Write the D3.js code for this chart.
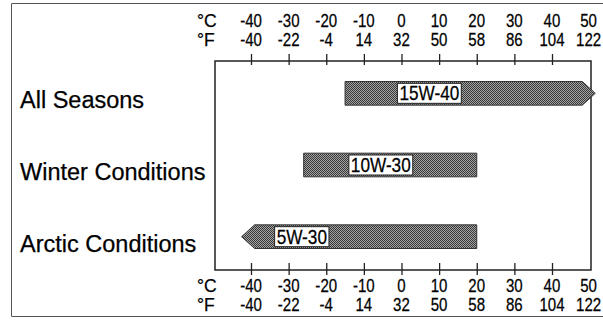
<!DOCTYPE html>
<html><head><meta charset="utf-8">
<script src="https://cdn.jsdelivr.net/npm/d3@7/dist/d3.min.js"></script>
<style>body{margin:0;background:#fff}svg{display:block}text{font-family:"Liberation Sans",Arial,sans-serif;fill:#000;stroke:#000;stroke-width:0.25px}</style>
</head><body><svg id="c" width="603" height="320"></svg>
<script>
const categories = ["All Seasons", "Winter Conditions", "Arctic Conditions"];
const grades = ["15W-40", "10W-30", "5W-30"];
const lowC = [-15, -26, -42.5];
const highC = [51.5, 20, 20];
const openLow = [false, false, true];
const openHigh = [true, false, false];
const gradeLabelC = [7.4, -5.5, -26.5];
const celsiusTicks = [-40, -30, -20, -10, 0, 10, 20, 30, 40, 50];
const fahrenheitLabels = ["-40", "-22", "-4", "14", "32", "50", "58", "86", "104", "122"];

const svg = d3.select("#c");
const W = 603, H = 320;
const box = {l: 215, r: 591, t: 61, b: 270};
const x = d3.scaleLinear().domain([-40, 40]).range([251, 552]);
const y = d3.scaleBand().domain(categories).range([60, 270]).paddingInner(0.67).paddingOuter(0.3);

const defs = svg.append("defs");
const pat = defs.append("pattern").attr("id", "ht").attr("width", 2).attr("height", 2).attr("patternUnits", "userSpaceOnUse");
pat.append("rect").attr("width", 2).attr("height", 2).attr("fill", "#a4a4a4");
pat.append("rect").attr("width", 1).attr("height", 1).attr("fill", "#383838");
pat.append("rect").attr("x", 1).attr("y", 1).attr("width", 1).attr("height", 1).attr("fill", "#383838");

svg.append("path").attr("d", `M${W+2},3.5 H11.5 V316.5 H${W+2}`).attr("fill", "none").attr("stroke", "#555").attr("stroke-width", 1);

svg.append("rect").attr("x", box.l).attr("y", box.t).attr("width", box.r - box.l).attr("height", box.b - box.t)
  .attr("fill", "none").attr("stroke", "#222").attr("stroke-width", 1.5);

const tickVals = celsiusTicks.filter(v => x(v) < box.r - 5);
const topAxis = d3.axisTop(x).tickValues(tickVals).tickSize(11).tickFormat("");
const gTop = svg.append("g").attr("transform", `translate(0,${box.t + 4})`).call(topAxis);
gTop.select(".domain").remove();
gTop.selectAll("line").attr("stroke", "#222").attr("stroke-width", 1.3);
const botAxis = d3.axisBottom(x).tickValues(tickVals).tickSize(12).tickFormat("");
const gBot = svg.append("g").attr("transform", `translate(0,${box.b - 7})`).call(botAxis);
gBot.select(".domain").remove();
gBot.selectAll("line").attr("stroke", "#222").attr("stroke-width", 1.3);

const fs = 17.5, sx = 0.86;
function labelRows(yC, yF) {
  const g = svg.append("g");
  g.append("text").attr("x", 197).attr("y", yC).attr("font-size", fs).text("°C");
  g.append("text").attr("x", 197).attr("y", yF).attr("font-size", fs).text("°F");
  celsiusTicks.forEach((v, i) => {
    const cx = x(v) + (v === 50 ? -1 : 0);
    g.append("text").attr("x", cx).attr("y", yC).attr("text-anchor", "middle").attr("font-size", fs)
      .attr("transform", `translate(${cx},0) scale(${sx},1) translate(${-cx},0)`).text(v);
    g.append("text").attr("x", cx).attr("y", yF).attr("text-anchor", "middle").attr("font-size", fs)
      .attr("transform", `translate(${cx},0) scale(${sx},1) translate(${-cx},0)`).text(fahrenheitLabels[i]);
  });
}
labelRows(27, 46);
labelRows(292, 311);

categories.forEach(c => {
  svg.append("text").attr("x", 20).attr("y", y(c) + y.bandwidth() / 2 + 15).attr("font-size", 23.5).text(c);
});

const head = 13;
categories.forEach((c, i) => {
  const y0 = y(c), y1 = y(c) + y.bandwidth(), ym = (y0 + y1) / 2;
  const xl = x(lowC[i]), xr = x(highC[i]);
  const bl = openLow[i] ? xl + head : xl;
  const br = openHigh[i] ? xr - head : xr;
  const p = d3.path();
  p.moveTo(bl, y0); p.lineTo(br, y0);
  if (openHigh[i]) p.lineTo(xr, ym);
  p.lineTo(br, y1); p.lineTo(bl, y1);
  if (openLow[i]) p.lineTo(xl, ym);
  p.closePath();
  svg.append("path").attr("d", p.toString()).attr("fill", "url(#ht)").attr("stroke", "#333").attr("stroke-width", 1);
  const gx = x(gradeLabelC[i]);
  const t = svg.append("text").attr("x", gx).attr("y", ym + 7).attr("text-anchor", "middle")
    .attr("font-size", 20).attr("transform", `translate(${gx},0) scale(0.86,1) translate(${-gx},0)`).text(grades[i]);
  const bb = t.node().getBBox();
  const w = bb.width * 0.86;
  svg.insert("rect", () => t.node()).attr("x", gx - w / 2 - 2).attr("y", ym - 10).attr("width", w + 4).attr("height", 20)
    .attr("fill", "#fff").attr("stroke", "#222").attr("stroke-width", 1);
});
</script></body></html>
